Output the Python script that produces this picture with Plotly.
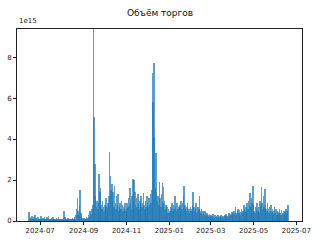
import pandas as pd
import plotly.graph_objects as go

# Daily trading volume, units of 1e15
start_date = "2024-06-15"
jun_2024 = [0.42,0.15,0.2,0.1,0.25,0.12,0.08,0.18,0.1,0.3,0.12,0.15,0.08,0.2,0.1,0.12]
jul_2024 = [0.1,0.25,0.1,0.08,0.15,0.1,0.2,0.12,0.08,0.1,0.18,0.1,0.22,0.12,0.1,0.08,0.15,0.1,0.2,0.12,0.1,0.08,0.12,0.15,0.1,0.08,0.18,0.1,0.12,0.1,0.08]
aug_2024 = [0.1,0.12,0.15,0.47,0.2,0.1,0.08,0.12,0.1,0.15,0.08,0.1,0.12,0.1,0.08,0.15,0.1,0.12,0.2,0.1,0.3,0.6,1.1,0.5,0.3,0.8,1.5,0.4,0.2,0.1,0.15]
sep_2024 = [0.1,0.15,0.08,0.12,0.2,0.1,0.15,0.3,0.2,0.5,0.4,0.3,0.6,0.8,9.35,5.1,2.8,1.2,0.7,1.0,0.6,0.9,2.3,1.4,1.6,0.8,0.6,1.0,0.7,0.5]
oct_2024 = [0.8,0.6,1.1,0.7,0.5,0.9,1.2,3.35,2.2,1.5,1.8,1.0,1.4,0.7,1.7,0.9,0.6,1.2,0.8,1.3,0.5,0.7,0.9,0.6,1.0,0.8,0.5,0.7,0.6,0.9,0.5]
nov_2024 = [0.6,0.9,0.7,1.1,0.8,1.6,0.9,0.6,1.2,2.05,1.0,2.0,1.4,0.8,1.1,0.7,1.3,0.9,0.6,1.0,0.8,1.2,0.7,0.9,1.35,0.8,0.6,1.0,0.7,1.2]
dec_2024 = [0.9,0.7,1.1,0.8,1.3,0.9,1.5,7.2,5.8,7.7,4.1,1.6,3.3,1.4,1.0,1.2,0.8,1.9,1.1,0.7,1.3,1.85,0.9,1.65,1.0,0.6,0.8,0.5,0.7,0.4,0.6]
jan_2025 = [0.4,0.5,0.7,0.6,0.9,0.5,0.8,0.6,1.2,0.7,0.5,0.9,0.6,0.4,0.7,0.8,0.5,1.0,0.6,0.9,1.2,1.7,0.8,0.6,0.5,0.7,0.9,0.5,0.6,0.4,0.7]
feb_2025 = [0.5,0.6,0.8,1.4,0.7,0.5,0.6,0.9,0.4,0.5,0.7,0.6,1.2,0.5,0.4,0.6,0.3,0.5,0.4,0.3,0.5,0.3,0.25,0.4,0.3,0.2,0.35,0.25]
mar_2025 = [0.3,0.2,0.25,0.35,0.2,0.15,0.3,0.2,0.25,0.18,0.3,0.2,0.15,0.25,0.2,0.3,0.18,0.22,0.15,0.25,0.3,0.2,0.35,0.25,0.2,0.3,0.4,0.25,0.35,0.3,0.45]
apr_2025 = [0.3,0.4,0.5,0.35,0.7,0.4,0.3,0.5,0.6,0.4,0.55,0.3,0.45,0.6,0.4,0.5,0.8,0.6,0.45,0.7,0.5,0.9,0.6,1.0,0.8,1.35,0.7,1.1,0.9,1.72]
may_2025 = [0.8,0.5,0.4,0.7,0.6,0.9,0.5,0.7,0.4,1.0,0.8,1.67,0.9,0.6,1.2,0.7,1.56,0.8,0.6,0.5,0.9,0.6,0.4,0.7,0.5,0.8,0.45,0.6,0.35,0.5,0.7]
jun_2025 = [0.4,0.6,0.3,0.5,0.45,0.35,0.6,0.4,0.3,0.55,0.4,0.35,0.5,0.3,0.45,0.6,0.4,0.5,0.78]

volume = (jun_2024 + jul_2024 + aug_2024 + sep_2024 + oct_2024 + nov_2024 + dec_2024
          + jan_2025 + feb_2025 + mar_2025 + apr_2025 + may_2025 + jun_2025)
dates = pd.date_range(start_date, periods=len(volume), freq="D")

y_ticks = [0, 2, 4, 6, 8]
title_text = "Объём торгов"
offset_text = "1e15"

font = "DejaVu Sans"
fig = go.Figure(go.Bar(
    x=dates, y=volume, width=0.8 * 86400000,
    marker=dict(color="#1f77b4", opacity=0.72, line=dict(width=0)),
))
fig.update_layout(
    width=320, height=240,
    margin=dict(l=17, r=18, t=29, b=19, autoexpand=False),
    paper_bgcolor="white", plot_bgcolor="white",
    showlegend=False, bargap=0,
    title=dict(text=title_text, x=0.5, xanchor="center", y=1 - 13 / 240, yanchor="middle",
               font=dict(family=font, size=9, color="#111")),
    font=dict(family=font, size=7, color="#222"),
)
fig.update_xaxes(
    type="date", range=["2024-05-29", "2025-07-09"], automargin=False,
    tick0="2024-07-01", dtick="M2", tickformat="%Y-%m",
    ticks="outside", ticklen=3, tickwidth=0.8, tickcolor="#222",
    showline=True, linecolor="#222", linewidth=0.8, mirror=True,
    showgrid=False, zeroline=False, tickfont=dict(size=7),
)
fig.update_yaxes(
    range=[0, 9.37], tickvals=y_ticks, ticktext=[str(v) for v in y_ticks], automargin=False,
    ticks="outside", ticklen=3, tickwidth=0.8, tickcolor="#222",
    showline=True, linecolor="#222", linewidth=0.8, mirror=True,
    showgrid=False, zeroline=False, tickfont=dict(size=7),
)
fig.add_annotation(text=offset_text, xref="paper", yref="paper", x=0, y=1,
                   xanchor="left", yanchor="bottom", yshift=2, showarrow=False,
                   font=dict(family=font, size=7, color="#222"))
fig.write_html("out.html")
